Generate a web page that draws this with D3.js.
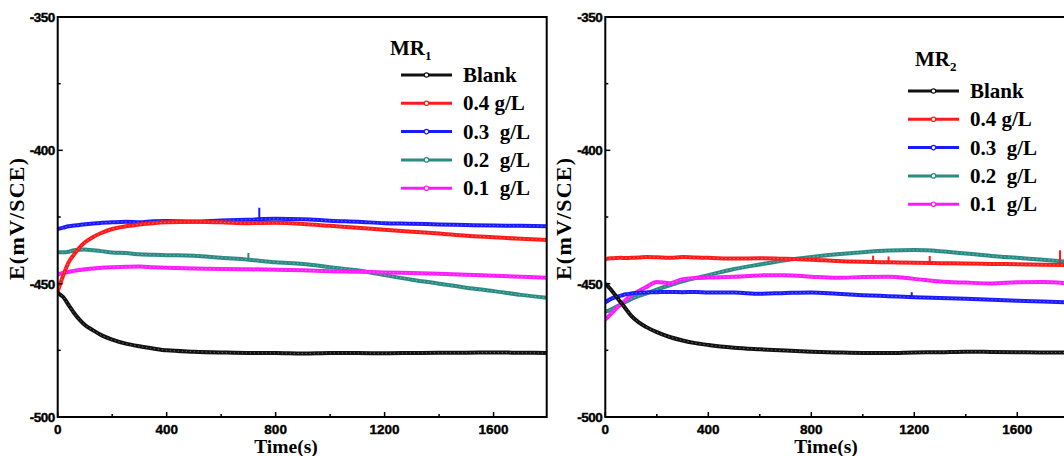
<!DOCTYPE html>
<html>
<head>
<meta charset="utf-8">
<script src="https://cdn.jsdelivr.net/npm/d3@7"></script>
<style>
  body { margin: 0; background: #fff; }
  svg { display: block; }
</style>
</head>
<body>
<svg width="1064" height="456"></svg>
<script>
// time grid (s)
const times = [0, 20, 40, 60, 80, 100, 130, 160, 200, 250, 300, 350, 400, 500, 600, 700, 800, 900, 1000, 1100, 1200, 1300, 1400, 1500, 1600, 1700, 1795];

const seriesNames = ["Blank", "0.4 g/L", "0.3  g/L", "0.2  g/L", "0.1  g/L"];
const seriesColors = ["#111111", "#ff1a1a", "#1a1aff", "#2a8a84", "#ff1aff"];

// MR1 potentials (mV vs SCE)
const mr1Blank = [-453.5, -455, -458, -461, -463.5, -465.5, -467.5, -469.3, -471, -472.5, -473.5, -474.3, -475, -475.5, -475.8, -476, -476, -476.2, -476, -476, -476.1, -476, -475.9, -475.9, -475.8, -475.9, -476];
const mr1C04 = [-453, -447, -442, -439, -436.5, -434.5, -432.5, -431, -429.5, -428.5, -427.8, -427.3, -427, -426.8, -427, -427.3, -427.2, -427.6, -428.3, -429, -429.8, -430.5, -431.2, -432, -432.6, -433.2, -433.6];
const mr1C03 = [-429.5, -429, -428.5, -428.2, -428, -427.7, -427.4, -427.2, -427, -426.8, -427, -426.6, -426.5, -426.7, -426.3, -426, -425.7, -425.8, -426.4, -426.8, -427.3, -427.5, -427.8, -428, -428.2, -428.3, -428.5];
const mr1C02 = [-438.2, -438.2, -438, -437.5, -437.3, -437.2, -437.5, -437.8, -438.3, -438.5, -439, -439.2, -439.3, -439.5, -440.3, -441, -442, -442.6, -443.8, -445, -446.8, -448.5, -450, -451.5, -452.8, -454.2, -455.3];
const mr1C01 = [-446.5, -446, -445.6, -445.2, -444.9, -444.6, -444.3, -444, -443.8, -443.7, -443.6, -443.8, -444, -444.3, -444.5, -444.6, -444.8, -445, -445.3, -445.5, -445.8, -446, -446.3, -446.7, -447, -447.4, -447.8];

// MR2 potentials (mV vs SCE)
const mr2Blank = [-450, -452, -454.5, -457, -459.5, -462, -464.5, -466.3, -468.2, -470, -471.3, -472.3, -473, -474, -474.6, -475.1, -475.5, -475.8, -476, -476, -475.8, -475.7, -475.5, -475.6, -475.7, -475.8, -475.8];
const mr2C04 = [-440.8, -440.5, -440.4, -440.3, -440.4, -440.3, -440.2, -440, -440.1, -440.3, -440, -440.2, -440.3, -440.6, -440.5, -440.7, -441, -441.5, -441.8, -442, -442.2, -442.3, -442.4, -442.6, -442.7, -442.9, -443];
const mr2C03 = [-457, -455.8, -455, -454.5, -454, -453.7, -453.4, -453.3, -453.2, -453.1, -453.2, -453.1, -453.3, -453.3, -453.8, -453.5, -453.3, -453.8, -454.3, -454.7, -455.1, -455.4, -455.7, -456, -456.4, -456.7, -457];
const mr2C02 = [-460.5, -459.8, -458.8, -457.8, -456.8, -455.8, -454.6, -453.6, -452.2, -450.6, -449.1, -447.9, -446.8, -444.5, -442.8, -441.2, -440, -439, -438.2, -437.6, -437.4, -437.8, -438.7, -439.6, -440.3, -441, -441.8];
const mr2C01 = [-463.5, -461.5, -459.5, -457.8, -456, -454.5, -452.7, -451.2, -449.4, -449.8, -448.3, -447.9, -447.7, -447.4, -446.9, -446.8, -447.4, -447.8, -447.5, -447.4, -448.2, -449.2, -449.6, -449.9, -449.5, -449.4, -449.9];

// short spikes: [series index, time, tip value]
const mr1Spikes = [[2, 740, -421.5], [3, 700, -438.5]];
const mr2Spikes = [[1, 1040, -439.5], [1, 1100, -439.8], [1, 1260, -439.6], [1, 1766, -437.5], [2, 1190, -453.2]];

const xTicks = [0, 400, 800, 1200, 1600];
const xMinor = [200, 600, 1000, 1400];
const yTicks = [-350, -400, -450, -500];
const yMinor = [-375, -425, -475];

const sansFont = "Arial, 'Liberation Sans', sans-serif";
const serifFont = "'Times New Roman', 'Liberation Serif', serif";

const svg = d3.select("svg");

const panels = [
  {label: "1", data: [mr1Blank, mr1C04, mr1C03, mr1C02, mr1C01], spikes: mr1Spikes,
    left: 57.7, right: 546.7, timeX: 286, legX: 401, legY: 75, titleX: 390, titleY: 55},
  {label: "2", data: [mr2Blank, mr2C04, mr2C03, mr2C02, mr2C01], spikes: mr2Spikes,
    left: 605.3, right: 1067.5, timeX: 826, legX: 908, legY: 91, titleX: 915, titleY: 66}
];

const plotTop = 17, plotBottom = 417;

panels.forEach((p, pi) => {
  const x = d3.scaleLinear().domain([0, 1795]).range([p.left, p.right]);
  const y = d3.scaleLinear().domain([-500, -350]).range([plotBottom, plotTop]);

  const g = svg.append("g");

  const clipId = `clip${pi}`;
  g.append("clipPath").attr("id", clipId)
    .append("rect")
    .attr("x", p.left).attr("y", plotTop)
    .attr("width", p.right - p.left).attr("height", plotBottom - plotTop);

  const line = d3.line()
    .x((d, i) => x(times[i]))
    .y(d => y(d))
    .curve(d3.curveMonotoneX);

  const plot = g.append("g").attr("clip-path", `url(#${clipId})`);

  // draw order: teal and magenta under, blank last
  [3, 4, 2, 1, 0].forEach(si => {
    plot.append("path")
      .datum(p.data[si])
      .attr("fill", "none")
      .attr("stroke", seriesColors[si])
      .attr("stroke-width", 4)
      .attr("stroke-linejoin", "round")
      .attr("d", line);
    plot.append("path")
      .datum(p.data[si])
      .attr("fill", "none")
      .attr("stroke", "#fff")
      .attr("stroke-opacity", 0.4)
      .attr("stroke-width", 0.9)
      .attr("stroke-dasharray", "1.5,2.5")
      .attr("d", line);
  });

  const interp = (arr, t) => {
    const i = d3.bisectRight(times, t) - 1;
    const f = (t - times[i]) / (times[i + 1] - times[i]);
    return arr[i] + f * (arr[i + 1] - arr[i]);
  };

  plot.selectAll(".spike")
    .data(p.spikes)
    .enter().append("line")
    .attr("class", "spike")
    .attr("x1", d => x(d[1])).attr("x2", d => x(d[1]))
    .attr("y1", d => y(interp(p.data[d[0]], d[1])))
    .attr("y2", d => y(d[2]))
    .attr("stroke", d => seriesColors[d[0]])
    .attr("stroke-width", 2);

  // frame
  g.append("rect")
    .attr("x", p.left).attr("y", plotTop)
    .attr("width", p.right - p.left).attr("height", plotBottom - plotTop)
    .attr("fill", "none")
    .attr("stroke", "#000")
    .attr("stroke-width", 2);

  // x ticks (inward)
  g.selectAll(".xt")
    .data(xTicks).enter().append("line")
    .attr("x1", d => x(d)).attr("x2", d => x(d))
    .attr("y1", plotBottom).attr("y2", plotBottom - 5)
    .attr("stroke", "#000").attr("stroke-width", 1.5);
  g.selectAll(".xm")
    .data(xMinor).enter().append("line")
    .attr("x1", d => x(d)).attr("x2", d => x(d))
    .attr("y1", plotBottom).attr("y2", plotBottom - 3)
    .attr("stroke", "#000").attr("stroke-width", 1.5);
  g.selectAll(".xl")
    .data(xTicks).enter().append("text")
    .attr("x", d => x(d)).attr("y", 434)
    .attr("text-anchor", "middle")
    .attr("font-family", sansFont)
    .attr("font-weight", 700)
    .attr("font-size", 13.5)
    .attr("stroke", "#000")
    .attr("stroke-width", 0.4)
    .text(d => d);

  // y ticks (inward)
  g.selectAll(".yt")
    .data(yTicks).enter().append("line")
    .attr("x1", p.left).attr("x2", p.left + 5)
    .attr("y1", d => y(d)).attr("y2", d => y(d))
    .attr("stroke", "#000").attr("stroke-width", 1.5);
  g.selectAll(".ym")
    .data(yMinor).enter().append("line")
    .attr("x1", p.left).attr("x2", p.left + 3)
    .attr("y1", d => y(d)).attr("y2", d => y(d))
    .attr("stroke", "#000").attr("stroke-width", 1.5);
  g.selectAll(".yl")
    .data(yTicks).enter().append("text")
    .attr("x", p.left - 3).attr("y", d => y(d))
    .attr("dy", "0.36em")
    .attr("text-anchor", "end")
    .attr("font-family", sansFont)
    .attr("font-weight", 700)
    .attr("font-size", 13.5)
    .attr("letter-spacing", -0.5)
    .attr("stroke", "#000")
    .attr("stroke-width", 0.4)
    .text(d => d);

  // axis titles
  g.append("text")
    .attr("x", p.timeX)
    .attr("y", 453)
    .attr("text-anchor", "middle")
    .attr("font-family", serifFont)
    .attr("font-weight", 700)
    .attr("font-size", 19.5)
    .text("Time(s)");

  g.append("text")
    .attr("transform", `translate(${p.left - 34},219) rotate(-90)`)
    .attr("text-anchor", "middle")
    .attr("textLength", 122)
    .attr("lengthAdjust", "spacing")
    .attr("font-family", serifFont)
    .attr("font-weight", 700)
    .attr("font-size", 22)
    .text("E(mV/SCE)");

  // legend
  const t = g.append("text")
    .attr("x", p.titleX).attr("y", p.titleY)
    .attr("font-family", serifFont)
    .attr("font-weight", 700)
    .attr("font-size", 21)
    .text("MR");
  t.append("tspan")
    .attr("dy", 5)
    .attr("font-size", 13)
    .text(p.label);

  const legend = g.selectAll(".legend")
    .data(seriesNames).enter().append("g")
    .attr("transform", (d, i) => `translate(${p.legX},${p.legY + i * 28.3})`);

  legend.append("line")
    .attr("x1", 0).attr("x2", 51)
    .attr("stroke", (d, i) => seriesColors[i])
    .attr("stroke-width", 3);
  legend.append("circle")
    .attr("cx", 25.5).attr("r", 2.2)
    .attr("fill", "#fff")
    .attr("stroke", (d, i) => seriesColors[i])
    .attr("stroke-width", 1.2);
  legend.append("text")
    .attr("x", 62).attr("y", 7)
    .attr("font-family", serifFont)
    .attr("font-weight", 700)
    .attr("font-size", 21)
    .style("white-space", "pre")
    .text(d => d);
});
</script>
</body>
</html>
